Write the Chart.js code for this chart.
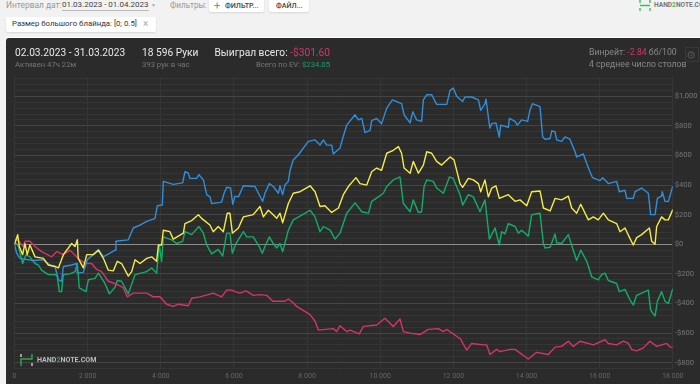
<!DOCTYPE html>
<html><head><meta charset="utf-8">
<script src="https://cdn.jsdelivr.net/npm/chart.js@4"></script>
<style>
html,body{margin:0;padding:0;width:700px;height:384px;overflow:hidden;background:#f2f2f2;font-family:Roboto,sans-serif;}
.t{position:absolute;white-space:nowrap;line-height:1;}
#panel{position:absolute;left:5.5px;top:38px;width:700px;height:350px;background:#2b2b2b;border-radius:3px;box-shadow:0 -1px 0 #fff;}
canvas{position:absolute;left:0;top:0;}
.btn{position:absolute;background:#fff;border-radius:2px;box-shadow:0 1px 2px rgba(0,0,0,.12);}
</style></head><body>
<div class="t" style="left:6px;top:1px;font-size:8.4px;color:#999">Интервал дат:</div>
<div class="t" style="left:62px;top:1px;font-size:8px;color:#444;border-bottom:1px solid #bbb;padding-bottom:1px">01.03.2023 - 01.04.2023</div>
<div class="t" style="left:151px;top:3px;font-size:5px;color:#aaa">▼</div>
<div class="t" style="left:170px;top:1px;font-size:8.2px;color:#999">Фильтры:</div>
<div class="btn" style="left:209px;top:-2px;width:55px;height:14px"></div>
<div class="t" style="left:214px;top:0px;font-size:11px;color:#888">+</div>
<div class="t" style="left:225px;top:2px;font-size:7.2px;color:#444;font-weight:500">ФИЛЬТР...</div>
<div class="btn" style="left:269px;top:-2px;width:40px;height:14px"></div>
<div class="t" style="left:276px;top:2px;font-size:7.2px;color:#444;font-weight:500">ФАЙЛ...</div>
<div class="btn" style="left:6px;top:17px;width:150px;height:15px"></div>
<div class="t" style="left:12px;top:20px;font-size:7.8px;color:#333">Размер большого блайнда: [0; 0.5]</div>
<div class="t" style="left:143px;top:19px;font-size:10px;color:#aaa">×</div>
<svg style="position:absolute;left:639px;top:0" width="12" height="12"><path d="M1 0V3M1 8V11M11 0V3M11 8V11M1 5.5H11" stroke="#3fbf5a" stroke-width="1.4" fill="none"/></svg>
<div class="t" style="left:654px;top:2px;width:46px;overflow:hidden;font-size:6.6px;color:#777;font-weight:700">HAND<span style="color:#3fbf5a">2</span>NOTE.COM</div>
<div id="panel"></div>
<canvas id="c" width="700" height="384"></canvas>
<div class="t" style="left:15px;top:48px;font-size:10.2px;color:#e8e8e8">02.03.2023 - 31.03.2023</div>
<div class="t" style="left:15px;top:61px;font-size:7.7px;color:#777">Активен 47ч 22м</div>
<div class="t" style="left:142px;top:48px;font-size:10.2px;color:#e8e8e8">18 596 Руки</div>
<div class="t" style="left:142px;top:61px;font-size:7.7px;color:#777">393 рук в час</div>
<div class="t" style="right:370px;top:48px;font-size:10.2px;color:#e8e8e8">Выиграл всего: <span style="color:#d9336e">-$301.60</span></div>
<div class="t" style="right:370px;top:61px;font-size:7.7px;color:#777">Всего по EV: <span style="color:#10a765">$234.05</span></div>
<div class="t" style="left:589px;top:48px;font-size:8.7px;color:#888">Винрейт: <span style="color:#d9336e">-2.84</span> бб/100</div>
<div class="t" style="left:589px;top:60px;font-size:8.7px;color:#888">4 среднее число столов</div>
<div style="position:absolute;left:685px;top:47px;width:14px;height:15px;border:1px solid #383838;box-sizing:border-box"></div>
<div class="t" style="left:686px;top:49px;font:11px 'DejaVu Sans';color:#555">⚙</div>
<svg style="position:absolute;left:20px;top:354px" width="13" height="13"><path d="M1 0V3M12 9V12" stroke="#ccc" stroke-width="1.4"/><path d="M12 0V5H1V12" stroke="#2fa84f" stroke-width="1.4" fill="none"/></svg>
<div class="t" style="left:37px;top:356px;font-size:7.1px;color:#bbb;font-weight:700">HAND<span style="color:#2fa84f">2</span>NOTE.COM</div>
<script>
const xTickStep = 2000;
const totalHands = 18596;
const blueHands = [0,60,155,530,815,1000,1145,1240,1330,1380,1615,1755,1775,1945,2055,2225,2370,2510,2695,2840,2865,3215,3355,3545,3735,3970,4035,4175,4205,4485,4750,4815,4910,4955,5145,5210,5335,5430,5520,5570,5850,5920,5995,6105,6165,6230,6325,6465,6795,6890,7010,7075,7200,7310,7455,7500,7575,7640,7735,7785,7875,8020,8300,8490,8630,8725,8820,8960,9005,9195,9270,9385,9620,9715,9810,9900,10045,10090,10230,10370,10515,10675,10935,11005,11175,11250,11360,11500,11550,11645,11785,11925,12210,12305,12395,12490,12660,12725,12915,13105,13170,13290,13320,13385,13430,13480,13600,13695,13735,13950,13980,14140,14205,14325,14495,14560,14630,14845,14920,14985,15130,15175,15270,15315,15455,15550,15690,15835,15880,16070,16165,16255,16330,16540,16615,16775,17010,17085,17245,17295,17480,17530,17715,17905,17970,18095,18160,18280,18300,18375,18470,18596];
const blueValues = [0,-60,-95,-110,-105,-140,-150,-240,-250,-150,-140,-130,-195,-190,-105,-70,-35,-85,-60,-40,20,30,110,130,155,175,260,265,425,405,415,490,480,445,445,470,435,335,320,275,285,345,385,380,270,325,320,395,390,345,290,345,410,390,345,395,335,400,425,500,570,605,695,705,670,705,670,670,610,650,715,805,875,840,850,755,770,835,850,815,920,975,950,875,820,895,840,830,975,1010,1010,945,945,1040,1055,1000,965,995,995,975,905,950,980,860,785,815,820,725,805,790,850,830,805,840,830,905,950,930,725,710,715,765,760,705,695,725,710,625,590,610,545,490,450,430,450,410,425,355,365,310,310,355,380,345,200,200,310,325,355,290,290,394];
const yellowHands = [0,90,135,230,295,360,435,580,815,955,1145,1240,1380,1615,1710,1775,1800,1945,2040,2225,2370,2510,2650,2790,2905,3025,3215,3310,3405,3545,3735,3875,4015,4065,4155,4205,4390,4485,4770,4815,5005,5195,5285,5520,5615,5755,5900,6010,6085,6155,6325,6465,6745,6935,7030,7170,7310,7405,7500,7575,7735,7875,8065,8350,8490,8630,8770,8960,9150,9290,9430,9645,9760,9950,10090,10230,10370,10515,10700,10845,10935,11005,11175,11265,11410,11550,11645,11785,11925,12065,12305,12415,12585,12660,12820,12960,13105,13170,13290,13385,13480,13600,13695,13950,14140,14280,14470,14610,14845,14940,15130,15270,15455,15645,15740,15880,15995,16210,16350,16490,16635,16775,17010,17105,17245,17385,17480,17575,17715,17935,18000,18095,18140,18280,18375,18470,18596];
const yellowValues = [0,65,-15,-70,5,-70,-5,-85,-95,-140,-150,-160,-70,5,-15,30,-95,-160,-70,-70,-40,-95,-175,-180,-115,-130,-215,-185,-105,-130,-95,-85,-115,-5,-5,95,85,35,75,140,160,200,175,130,85,120,85,210,210,75,110,185,200,255,185,230,200,175,210,145,275,345,355,395,355,255,260,215,245,335,390,450,410,400,490,515,500,615,635,660,615,515,480,560,480,535,625,615,560,535,590,570,410,385,445,435,410,355,435,320,380,395,310,335,290,300,260,355,360,245,225,310,300,325,245,210,270,165,185,165,210,165,140,85,110,40,-5,45,65,110,20,0,120,185,165,165,234];
const greenHands = [0,60,110,230,325,435,580,675,765,955,1145,1210,1265,1330,1380,1565,1710,1775,1830,2020,2085,2275,2370,2555,2680,2840,2905,3025,3215,3405,3735,3875,4015,4090,4155,4205,4440,4580,4750,4815,5005,5210,5335,5430,5570,5755,5880,5995,6085,6155,6255,6465,6560,6745,6890,7000,7075,7200,7310,7405,7500,7575,7735,7875,8065,8350,8490,8630,8725,8915,9055,9195,9385,9620,9810,10000,10090,10280,10420,10515,10700,10890,10985,11175,11265,11410,11500,11570,11645,11830,11925,12115,12285,12395,12585,12660,12820,12960,13150,13290,13415,13575,13695,13760,13855,13950,14140,14235,14325,14515,14610,14845,14940,14985,15130,15270,15315,15455,15645,15785,15880,15995,16165,16305,16490,16585,16680,16775,17010,17085,17245,17385,17480,17575,17905,17970,18095,18160,18280,18375,18470,18596];
const greenValues = [0,5,-15,-130,-70,-85,-130,-140,-175,-205,-205,-220,-320,-320,-205,-200,-185,-130,-295,-320,-240,-230,-195,-265,-335,-290,-245,-250,-335,-205,-185,-160,-195,-5,-115,50,30,5,20,85,65,120,75,-5,-65,-35,-80,75,75,-60,5,85,50,50,-5,-60,-15,50,5,-25,5,-50,95,165,190,230,185,85,120,95,35,75,210,280,220,210,290,320,345,390,435,455,275,220,300,215,220,390,435,425,380,345,455,445,335,265,335,320,220,300,35,110,-5,85,70,140,120,75,95,55,200,210,5,-25,-20,70,10,5,65,-40,-110,-40,-115,-220,-240,-205,-195,-245,-265,-320,-305,-375,-410,-345,-310,-445,-485,-385,-320,-385,-400,-301];
const pinkHands = [0,60,250,295,435,580,765,1050,1190,1380,1565,1800,1990,2180,2320,2460,2650,2885,3075,3185,3355,3735,3920,4110,4300,4485,4630,4910,5005,5240,5615,5850,5995,6135,6230,6370,6540,6745,6935,7125,7295,7640,7735,7875,7970,8350,8490,8585,9005,9100,9195,9385,9480,9740,9855,10230,10465,10700,10890,10985,11175,11455,11690,11975,12115,12210,12540,12585,12775,12915,13245,13340,13430,13620,13715,14000,14140,14515,14750,15080,15270,15455,15645,15785,15975,16350,16680,16775,17010,17200,17340,17435,17575,17764,17950,18140,18425,18520,18596];
const pinkValues = [0,35,-15,20,20,-15,-50,-85,-50,-70,-40,-95,-130,-130,-170,-185,-250,-270,-295,-355,-330,-330,-355,-355,-405,-420,-405,-415,-365,-355,-330,-355,-310,-310,-320,-330,-315,-345,-340,-345,-385,-385,-370,-395,-420,-475,-520,-580,-570,-590,-550,-590,-580,-605,-555,-545,-500,-555,-505,-590,-600,-610,-575,-570,-590,-575,-630,-635,-715,-670,-680,-680,-745,-710,-725,-710,-710,-775,-730,-745,-695,-690,-655,-690,-655,-680,-645,-670,-680,-655,-670,-710,-720,-700,-655,-690,-670,-695,-695];
const zip = (h, v) => h.map((x, i) => ({x, y: v[i]}));
const line = (label, data, color, order) => ({label, data, borderColor: color, borderWidth: 1.4, pointRadius: 0, tension: 0, order, borderJoinStyle:'round'});
new Chart(document.getElementById('c'), {
  type: 'line',
  data: {datasets: [
    line('EV', zip(yellowHands, yellowValues), '#f5ec45', 0),
    line('Showdown', zip(blueHands, blueValues), '#2f8fdc', 1),
    line('Non-showdown', zip(pinkHands, pinkValues), '#d6336c', 2),
    line('Net', zip(greenHands, greenValues), '#10ae68', 3)
  ]},
  options: {
    responsive: false, animation: false,
    layout: {padding: {left: 14.5, right: 0, top: 78.5, bottom: 0}},
    plugins: {legend: {display: false}, tooltip: {enabled: false}},
    scales: {
      x: {type: 'linear', min: 0, max: totalHands,
        afterFit: s => { s.height = 15.4; },
        border: {display: false},
        grid: {color: '#363636', lineWidth: 1, drawTicks: false},
        ticks: {stepSize: xTickStep, includeBounds: false, maxRotation: 0, minRotation: 0, autoSkip: false, padding: 3, color: '#666', font: {family: 'Roboto', size: 7},
          callback: v => (v >= 1000 ? Math.floor(v/1000) + ' 000' : String(v))}},
      y: {position: 'right', min: -840, max: 1120,
        afterFit: s => { s.width = 27.2; },
        border: {display: true, color: '#363636'},
        grid: {drawTicks: false, lineWidth: 1,
          color: c => c.tick.value === 0 ? '#8c8c8c' : (c.tick.value % 200 === 0 ? '#454545' : '#353535')},
        ticks: {stepSize: 40, autoSkip: false, crossAlign: 'near', padding: 2, color: '#777', font: {family: 'Roboto', size: 7.6},
          callback: v => v % 200 !== 0 ? '' : (v < 0 ? '-$' : '$') + Math.abs(v).toLocaleString('en-US')}}
    }
  }
});
</script>
</body></html>
